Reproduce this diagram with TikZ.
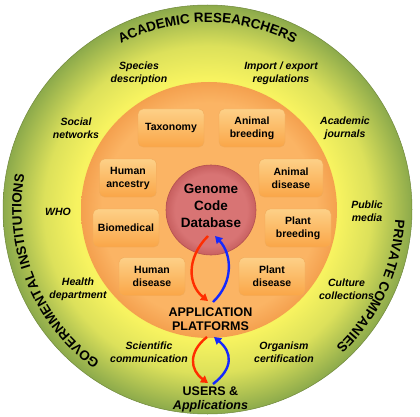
\documentclass[tikz,border=0pt]{standalone}
\usepackage{fontspec}
\setmainfont{Liberation Sans}
\usetikzlibrary{arrows.meta,decorations.text,calc}
\definecolor{yel}{RGB}{247,243,96}
\definecolor{grn}{RGB}{140,170,75}
\definecolor{orA}{RGB}{251,180,100}
\definecolor{orB}{RGB}{244,160,78}
\definecolor{bxT}{RGB}{253,208,135}
\definecolor{bxB}{RGB}{250,166,72}
\definecolor{bxD}{RGB}{240,170,90}
\definecolor{rdA}{RGB}{216,116,116}
\definecolor{rdB}{RGB}{200,96,96}
\definecolor{rdD}{RGB}{180,80,80}
\definecolor{arR}{RGB}{255,45,0}
\definecolor{arB}{RGB}{20,40,255}
\pgfdeclareradialshading{ringshade}{\pgfpointorigin}{color(0bp)=(yel); color(16bp)=(yel); color(20bp)=(yel!75!grn); color(25bp)=(grn); color(50bp)=(grn)}
\pgfdeclareradialshading{orshade}{\pgfpointorigin}{color(0bp)=(orA); color(21bp)=(orA); color(25bp)=(orB); color(50bp)=(orB)}
\pgfdeclareradialshading{rdshade}{\pgfpointorigin}{color(0bp)=(rdA); color(20bp)=(rdA); color(25bp)=(rdB); color(50bp)=(rdB)}
\tikzset{
  boxstyle/.style={rounded corners=5pt, top color=bxT, bottom color=bxB, draw=bxD, line width=0.4pt,
    minimum height=38pt, align=center, inner sep=1pt,
    font=\fontsize{10.5}{13}\selectfont\bfseries},
  outlabel/.style={align=center, inner sep=0pt, font=\fontsize{10.5}{13}\selectfont\bfseries\itshape},
  biglabel/.style={align=center, inner sep=0pt, font=\fontsize{12.5}{14.5}\selectfont\bfseries},
  redarrow/.style={draw=arR, line width=2.4pt, -{Triangle[length=7pt,width=8pt]}},
  bluearrow/.style={draw=arB, line width=2.4pt, -{Triangle[length=7pt,width=8pt]}},
  ringtext/.style={decorate, decoration={text along path, text align=center,
    text={|\fontsize{13.5}{15}\selectfont\bfseries|#1}}}
}
\begin{document}
\begin{tikzpicture}[x=1pt,y=1pt]
\useasboundingbox (0,0) rectangle (420,-417);
\fill[white] (0,0) rectangle (420,-417);
\coordinate (C) at (207.5,-209.5);
% outer ring
\shade[shading=ringshade] (C) circle[radius=204.5];
\draw[grn!80!black, line width=0.5pt] (C) circle[radius=204.5];
% ring texts
\path[ringtext={ACADEMIC RESEARCHERS}] ($(C)+(150:187)$) arc[start angle=150, end angle=30, radius=187];
\path[ringtext={GOVERNMENTAL INSTITUTIONS}] ($(C)+(262:186)$) arc[start angle=262, end angle=142, radius=186];
\path[ringtext={PRIVATE COMPANIES}] ($(C)+(35:188)$) arc[start angle=35, end angle=-85, radius=188];
% orange circle
\shade[shading=orshade] (209,-210) circle[radius=128];
% red circle
\shade[shading=rdshade] (211,-210) circle[radius=45];
\draw[rdD, line width=0.6pt] (211,-210) circle[radius=45];
\node[biglabel, font=\fontsize{13.5}{17}\selectfont\bfseries] (db) at (211,-206) {Genome\\Code\\Database};
% boxes
\node[boxstyle, minimum width=66pt] (tax) at (171,-128) {Taxonomy};
\node[boxstyle, minimum width=66pt] (abreed) at (252,-128) {Animal\\breeding};
\node[boxstyle, minimum width=57pt] (hanc) at (128,-178) {Human\\ancestry};
\node[boxstyle, minimum width=64pt] (adis) at (291,-178) {Animal\\disease};
\node[boxstyle, minimum width=66pt] (biomed) at (126,-228) {Biomedical};
\node[boxstyle, minimum width=66pt] (pbreed) at (298,-228) {Plant\\breeding};
\node[boxstyle, minimum width=66pt] (hdis) at (152,-276.5) {Human\\disease};
\node[boxstyle, minimum width=66pt] (pdis) at (272,-276.5) {Plant\\disease};
% outer labels
\node[outlabel] (spec) at (139,-73) {Species\\description};
\node[outlabel] (imp) at (281,-73) {Import / export\\regulations};
\node[outlabel] (soc) at (76,-128) {Social\\networks};
\node[outlabel] (acj) at (345,-128) {Academic\\journals};
\node[outlabel] (who) at (58,-212) {WHO};
\node[outlabel] (pub) at (367,-211) {Public\\media};
\node[outlabel] (hea) at (78,-289.5) {Health\\department};
\node[outlabel] (cul) at (346.5,-289.5) {Culture\\collections};
\node[outlabel] (sci) at (149,-352.5) {Scientific\\communication};
\node[outlabel] (org) at (284,-352.5) {Organism\\certification};
% platforms and users
\node[biglabel] (app) at (210.5,-319) {APPLICATION\\PLATFORMS};
\node[biglabel] (usr) at (210.5,-399.5) {USERS \&\\\itshape Applications};
% arrow end points
\coordinate (r1s) at (208,-236);
\coordinate (r1e) at (208,-301);
\coordinate (b1s) at (213,-302);
\coordinate (b1e) at (215,-236);
\coordinate (r2s) at (207,-337);
\coordinate (r2e) at (208,-383);
\coordinate (b2s) at (213,-384);
\coordinate (b2e) at (214,-337);
\draw[redarrow] (r1s) .. controls (186,-258) and (188,-285) .. (r1e);
\draw[bluearrow] (b1s) .. controls (234,-282) and (232,-254) .. (b1e);
\draw[redarrow] (r2s) .. controls (188,-352) and (190,-370) .. (r2e);
\draw[bluearrow] (b2s) .. controls (234,-368) and (232,-352) .. (b2e);
\end{tikzpicture}
\end{document}
